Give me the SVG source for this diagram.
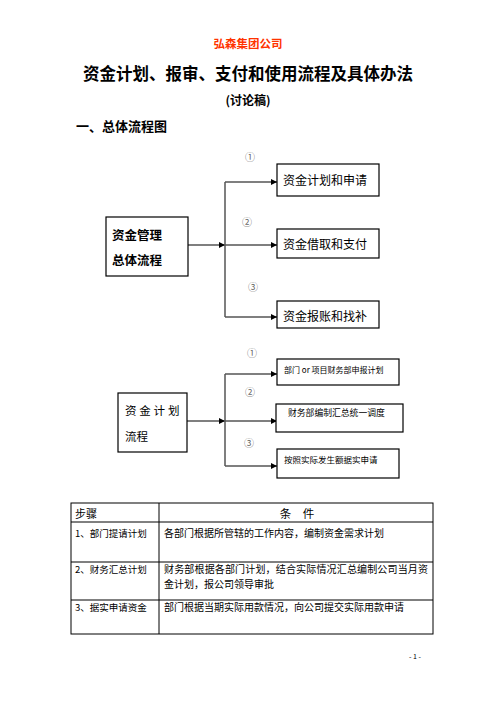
<svg xmlns="http://www.w3.org/2000/svg" width="496" height="702" viewBox="0 0 496 702">
<style>
text{font-family:"Noto Sans CJK SC","Liberation Serif",serif;fill:#000}
.b{font-weight:bold}
.box{fill:#fff;stroke:#000;stroke-width:1.2}
.con{fill:none;stroke:#555;stroke-width:1.5}
.num{font-size:10px;fill:#666}
.tl{stroke:#000;stroke-width:1;fill:none}
.t{font-size:10px}
</style>
<defs>
<marker id="ah" markerUnits="userSpaceOnUse" markerWidth="7" markerHeight="7" refX="6" refY="3" orient="auto">
<path d="M0,0 L6,3 L0,6 z" fill="#000"/>
</marker>
</defs>
<rect width="496" height="702" fill="#fff"/>
<g id="header">
<text x="248" y="47.5" text-anchor="middle" class="b" style="font-size:11.5px;fill:#ff3300">弘森集团公司</text>
<text x="248" y="80" text-anchor="middle" class="b" style="font-size:16.5px">资金计划、报审、支付和使用流程及具体办法</text>
<text x="248" y="104.5" text-anchor="middle" class="b" style="font-size:12px">(讨论稿)</text>
<text x="76" y="131" class="b" style="font-size:13px">一、总体流程图</text>
</g>
<g id="connectors">
<path class="con" d="M188,245 H225" marker-end="url(#ah)"/>
<path class="con" d="M225,182 V317"/>
<path class="con" d="M225,182 H277" marker-end="url(#ah)"/>
<path class="con" d="M225,245 H277" marker-end="url(#ah)"/>
<path class="con" d="M225,317 H277" marker-end="url(#ah)"/>
<path class="con" d="M187,421 H225" marker-end="url(#ah)"/>
<path class="con" d="M225,374 V466"/>
<path class="con" d="M225,374 H277" marker-end="url(#ah)"/>
<path class="con" d="M225,421 H277" marker-end="url(#ah)"/>
<path class="con" d="M225,466 H277" marker-end="url(#ah)"/>
</g>
<g id="labels">
<text x="250" y="161" class="num" text-anchor="middle">①</text>
<text x="247" y="226" class="num" text-anchor="middle">②</text>
<text x="253" y="291" class="num" text-anchor="middle">③</text>
<text x="252" y="357" class="num" text-anchor="middle">①</text>
<text x="250" y="396" class="num" text-anchor="middle">②</text>
<text x="249" y="447" class="num" text-anchor="middle">③</text>
</g>
<g id="n-main">
<rect class="box" x="106" y="217" width="82" height="59"/>
<text x="112" y="240" class="b" style="font-size:12.5px">资金管理</text>
<text x="112" y="265" class="b" style="font-size:12.5px">总体流程</text>
</g>
<g id="n-plan">
<rect class="box" x="277" y="164" width="102" height="32"/>
<text x="283" y="185" style="font-size:12px">资金计划和申请</text>
</g>
<g id="n-pay">
<rect class="box" x="277" y="229" width="102" height="29"/>
<text x="283" y="249" style="font-size:12px">资金借取和支付</text>
</g>
<g id="n-reimb">
<rect class="box" x="277" y="301" width="102" height="27"/>
<text x="283" y="321" style="font-size:12px">资金报账和找补</text>
</g>
<g id="n-fp">
<rect class="box" x="118" y="393" width="69" height="59"/>
<text x="125" y="415" style="font-size:11.5px;letter-spacing:2.8px">资金计划</text>
<text x="125" y="441" style="font-size:11.5px">流程</text>
</g>
<g id="n-a">
<rect class="box" x="277" y="359" width="122" height="26"/>
<text x="284" y="373" style="font-size:8px">部门 or 项目财务部申报计划</text>
</g>
<g id="n-b">
<rect class="box" x="276" y="404" width="127" height="28"/>
<text x="288" y="416" style="font-size:8.8px">财务部编制汇总统一调度</text>
</g>
<g id="n-c">
<rect class="box" x="277" y="449" width="122" height="29"/>
<text x="284" y="463" style="font-size:8.5px">按照实际发生额据实申请</text>
</g>
<g id="table">
<rect class="tl" x="71" y="503" width="362" height="131"/>
<path class="tl" d="M159,503 V634 M71,522 H433 M71,562 H433 M71,600 H433"/>
<text x="75" y="518" style="font-size:11px">步骤</text>
<text x="297" y="518" text-anchor="middle" style="font-size:11.5px">条　件</text>
<text x="75" y="537" class="t" style="font-size:9.5px">1、部门提请计划</text>
<text x="164" y="537" class="t">各部门根据所管辖的工作内容，编制资金需求计划</text>
<text x="75" y="573" class="t" style="font-size:9.5px">2、财务汇总计划</text>
<text x="164" y="573" class="t" textLength="264">财务部根据各部门计划，结合实际情况汇总编制公司当月资</text>
<text x="164" y="588" class="t">金计划，报公司领导审批</text>
<text x="75" y="611" class="t" style="font-size:9.5px">3、据实申请资金</text>
<text x="164" y="611" class="t">部门根据当期实际用款情况，向公司提交实际用款申请</text>
</g>
<text x="415" y="659" text-anchor="middle" style="font-size:7px">- 1 -</text>
</svg>
